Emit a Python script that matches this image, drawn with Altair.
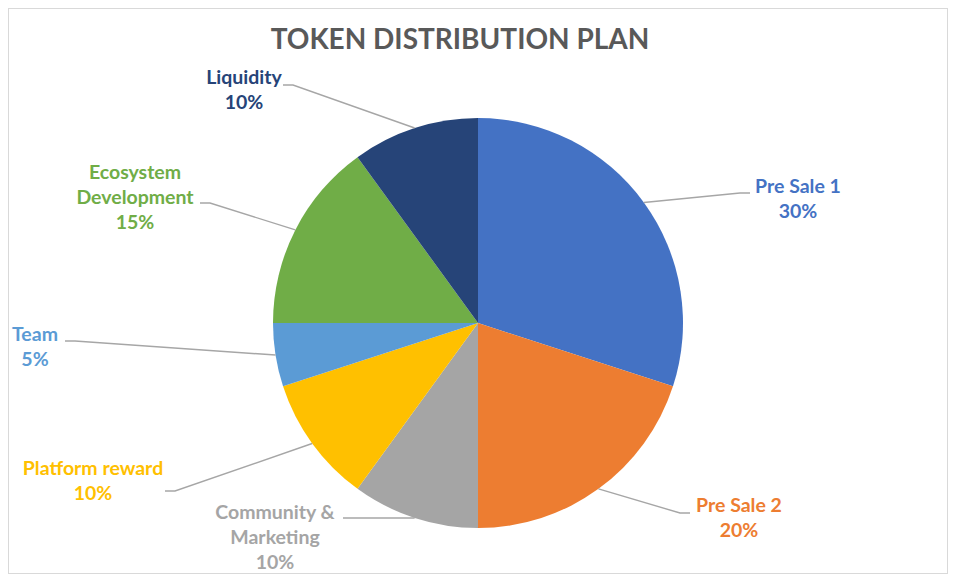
import math
import altair as alt
import pandas as pd

# ---- data ----
categories = ["Pre Sale 1", "Pre Sale 2", "Community & Marketing", "Platform reward",
              "Team", "Ecosystem Development", "Liquidity"]
shares = [30, 20, 10, 10, 5, 15, 10]
label_lines = [["Pre Sale 1"], ["Pre Sale 2"], ["Community &", "Marketing"],
               ["Platform reward"], ["Team"], ["Ecosystem", "Development"], ["Liquidity"]]
colors = ["#4472C4", "#ED7D31", "#A5A5A5", "#FFC000", "#5B9BD5", "#70AD47", "#264478"]
title_text = "TOKEN DISTRIBUTION PLAN"

# ---- layout (page pixels, chart origin sits at page (8, 8)) ----
OFF = 8
CX, CY, R = 478, 323, 205
label_pos = [(798, 187), (739, 506), (275, 513), (93, 469), (35, 335), (135, 173), (244, 78)]
leader_end = [(750, 193), (690, 513), (343, 518), (165, 491), (65, 341), (200, 203), (283, 85)]
LINE_H = 25
FONT = "Lato"

pie_df = pd.DataFrame({"category": categories, "share": shares, "order": range(len(categories))})

# leader lines: slice mid-point on the rim -> elbow -> label end
lead_rows = []
total = sum(shares)
cum = 0
for i, (cat, s) in enumerate(zip(categories, shares)):
    mid = (cum + s / 2) / total * 2 * math.pi
    cum += s
    sx = CX + R * math.sin(mid)
    sy = CY - R * math.cos(mid)
    ex, ey = leader_end[i]
    dirx = 1 if sx > ex else -1
    elx = ex + dirx * 10
    pts = [(sx, sy), (elx, ey), (ex, ey)]
    for k, (px, py) in enumerate(pts):
        lead_rows.append({"category": cat, "x": px - OFF, "y": py - OFF, "step": k})
lead_df = pd.DataFrame(lead_rows)

text_rows = []
for i, cat in enumerate(categories):
    lines = label_lines[i] + [f"{shares[i]}%"]
    lx, ly = label_pos[i]
    for j, t in enumerate(lines):
        text_rows.append({"category": cat, "text": t, "x": lx - OFF, "y": ly - OFF + j * LINE_H})
text_df = pd.DataFrame(text_rows)

color_scale = alt.Scale(domain=categories, range=colors)

pie = alt.Chart(pie_df).mark_arc(radius=R, stroke=None).encode(
    theta=alt.Theta("share:Q", stack=True),
    order=alt.Order("order:Q"),
    color=alt.Color("category:N", scale=color_scale, legend=None),
    x=alt.value(CX - OFF),
    y=alt.value(CY - OFF),
)

leaders = alt.Chart(lead_df).mark_line(color="#A6A6A6", strokeWidth=1.4).encode(
    x=alt.X("x:Q", scale=None, axis=None),
    y=alt.Y("y:Q", scale=None, axis=None),
    detail="category:N",
    order="step:Q",
)

labels = alt.Chart(text_df).mark_text(
    font=FONT, fontSize=19.5, fontWeight="bold", align="center", baseline="middle"
).encode(
    x=alt.X("x:Q", scale=None, axis=None),
    y=alt.Y("y:Q", scale=None, axis=None),
    text="text:N",
    color=alt.Color("category:N", scale=color_scale, legend=None),
)

title = alt.Chart(pd.DataFrame({"t": [title_text]})).mark_text(
    font=FONT, fontSize=28, fontWeight="bold", color="#595959", align="center", baseline="middle"
).encode(
    x=alt.value(460 - OFF),
    y=alt.value(41 - OFF),
    text="t:N",
)

chart = alt.layer(pie, leaders, labels, title).properties(
    width=940, height=566, autosize="none", padding=0
).configure_view(stroke="#D9D9D9", strokeWidth=2)

chart.save("out.html", embed_options={"renderer": "svg", "actions": False})
